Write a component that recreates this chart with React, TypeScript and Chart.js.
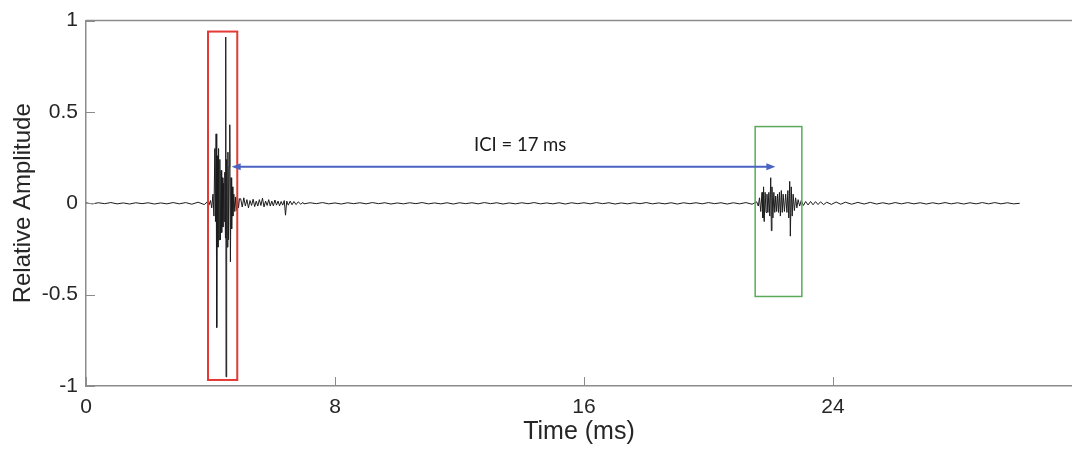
import React, { useEffect, useRef } from "react";
import { Chart, registerables } from "chart.js";

Chart.register(...registerables);

// ---- Data (time in ms, relative amplitude) ----
const xTicks = [0, 8, 16, 24];
const yTicks = [-1, -0.5, 0, 0.5, 1];

const quietStart: [number, number][] = [
  [0, 0.002], [0.2, -0.003], [0.4, 0.003], [0.6, -0.002], [0.8, 0.004], [1.0, -0.003], [1.2, 0.002],
  [1.4, -0.004], [1.6, 0.003], [1.8, -0.002], [2.0, 0.003], [2.2, -0.004], [2.4, 0.002], [2.6, -0.003],
  [2.8, 0.004], [3.0, -0.003], [3.2, 0.004], [3.4, -0.005], [3.6, 0.006], [3.8, -0.007],
];

const click1: [number, number][] = [
  [3.9, 0.008], [3.95, -0.01], [4.0, 0.015], [4.04, -0.025], [4.08, 0.05], [4.11, -0.07], [4.14, 0.3],
  [4.16, -0.1], [4.18, 0.38], [4.2, -0.68], [4.22, 0.26], [4.24, -0.24], [4.26, 0.3], [4.28, -0.2],
  [4.3, 0.24], [4.32, -0.2], [4.34, 0.18], [4.36, -0.16], [4.38, 0.14], [4.4, -0.13], [4.42, 0.11],
  [4.44, -0.1], [4.46, 0.17], [4.48, -0.19], [4.49, 0.91], [4.5, -0.95], [4.52, 0.24], [4.54, -0.24],
  [4.56, 0.28], [4.58, -0.2], [4.6, 0.2], [4.62, 0.43], [4.64, -0.32], [4.66, 0.14], [4.68, -0.14],
  [4.7, 0.09], [4.72, -0.07], [4.75, 0.05], [4.78, -0.045], [4.81, 0.035], [4.84, -0.04], [4.87, 0.03],
  [4.9, -0.025], [4.93, 0.025],
];

const click1Tail: [number, number][] = [
  [4.97, 0.025], [5.02, -0.02], [5.07, 0.03], [5.12, -0.015], [5.17, 0.02], [5.22, -0.025], [5.27, 0.015],
  [5.32, -0.012], [5.37, 0.022], [5.42, -0.018], [5.47, 0.012], [5.52, -0.015], [5.57, 0.02], [5.62, -0.012],
  [5.67, 0.028], [5.72, -0.02], [5.77, 0.012], [5.82, -0.012], [5.87, 0.02], [5.92, -0.015], [5.97, 0.012],
  [6.02, -0.014], [6.07, 0.018], [6.12, -0.01], [6.17, 0.012], [6.22, -0.014], [6.27, 0.01], [6.32, -0.01],
  [6.37, 0.015], [6.41, -0.065], [6.45, 0.012], [6.5, -0.01], [6.56, 0.012], [6.62, -0.008], [6.68, 0.01],
  [6.75, -0.007], [6.82, 0.008], [6.9, -0.005], [6.97, 0.005],
];

const quietMid: [number, number][] = [
  [7.0, -0.003], [7.2, 0.003], [7.4, -0.002], [7.6, 0.004], [7.8, -0.003], [8.0, 0.002], [8.2, -0.004],
  [8.4, 0.003], [8.6, -0.002], [8.8, 0.003], [9.0, -0.003], [9.2, 0.004], [9.4, -0.002], [9.6, 0.003],
  [9.8, -0.004], [10.0, 0.002], [10.2, -0.003], [10.4, 0.003], [10.6, -0.002], [10.8, 0.004], [11.0, -0.003],
  [11.2, 0.002], [11.4, -0.003], [11.6, 0.003], [11.8, -0.004], [12.0, 0.003], [12.2, -0.002], [12.4, 0.003],
  [12.6, -0.003], [12.8, 0.004], [13.0, -0.002], [13.2, 0.003], [13.4, -0.004], [13.6, 0.002], [13.8, -0.003],
  [14.0, 0.003], [14.2, -0.002], [14.4, 0.004], [14.6, -0.003], [14.8, 0.002], [15.0, -0.003], [15.2, 0.003],
  [15.4, -0.004], [15.6, 0.003], [15.8, -0.002], [16.0, 0.003], [16.2, -0.003], [16.4, 0.004], [16.6, -0.002],
  [16.8, 0.003], [17.0, -0.004], [17.2, 0.002], [17.4, -0.003], [17.6, 0.003], [17.8, -0.002], [18.0, 0.004],
  [18.2, -0.003], [18.4, 0.002], [18.6, -0.003], [18.8, 0.003], [19.0, -0.004], [19.2, 0.003], [19.4, -0.002],
  [19.6, 0.003], [19.8, -0.003], [20.0, 0.004], [20.2, -0.002], [20.4, 0.003], [20.6, -0.004], [20.8, 0.003],
  [21.0, -0.003], [21.2, 0.004], [21.4, -0.005],
];

const click2: [number, number][] = [
  [21.55, 0.008], [21.6, -0.015], [21.64, 0.03], [21.68, -0.045], [21.72, 0.06], [21.75, -0.08], [21.77, 0.09],
  [21.79, -0.1], [21.82, 0.06], [21.85, -0.05], [21.88, 0.05], [21.91, -0.05], [21.94, 0.06], [21.97, -0.07],
  [22.0, 0.14], [22.02, -0.15], [22.04, 0.09], [22.07, -0.08], [22.1, 0.06], [22.13, -0.05], [22.16, 0.04],
  [22.19, -0.045], [22.22, 0.05], [22.25, -0.05], [22.28, 0.06], [22.31, -0.07], [22.34, 0.07], [22.37, -0.05],
  [22.4, 0.05], [22.44, -0.045], [22.48, 0.05], [22.52, -0.05], [22.55, 0.07], [22.58, -0.08], [22.61, 0.12],
  [22.63, -0.18], [22.66, 0.09], [22.69, -0.07], [22.72, 0.05], [22.76, -0.04], [22.8, 0.03], [22.84, -0.025],
  [22.88, 0.02], [22.93, -0.015], [22.98, 0.015],
];

const quietEnd: [number, number][] = [
  [23.05, -0.012], [23.12, 0.01], [23.2, -0.009], [23.28, 0.01], [23.36, -0.008], [23.44, 0.009], [23.52, -0.007],
  [23.6, 0.008], [23.7, -0.007], [23.8, 0.006], [23.95, -0.006], [24.1, 0.007], [24.25, -0.005], [24.4, 0.006],
  [24.6, -0.005], [24.8, 0.005], [25.0, -0.004], [25.2, 0.005], [25.4, -0.004], [25.6, 0.003], [25.8, -0.004],
  [26.0, 0.004], [26.2, -0.003], [26.4, 0.004], [26.6, -0.003], [26.8, 0.003], [27.0, -0.004], [27.2, 0.003],
  [27.4, -0.003], [27.6, 0.004], [27.8, -0.003], [28.0, 0.003], [28.2, -0.004], [28.4, 0.003], [28.6, -0.003],
  [28.8, 0.004], [29.0, -0.003], [29.2, 0.004], [29.4, -0.003], [29.6, 0.003], [29.8, -0.003], [30.0, 0.0],
];

// Annotations in data units: [tStart, tEnd, yBottom, yTop]
const redBox = [3.92, 4.86, -0.967, 0.94];
const greenBox = [21.5, 23.0, -0.51, 0.42];
// ICI arrow: [tStart, tEnd, y]
const iciArrow = [4.68, 22.15, 0.2];
const iciLabel = "ICI = 17 ms";
const iciLabelPos = [13.95, 0.32];

const X_MAX = 31.68;
const AXIS_COLOR = "#8c8c8c";
const TEXT_COLOR = "#262626";
const FONT = "'Liberation Sans', Arial, sans-serif";

const overlayPlugin = {
  id: "overlay",
  afterDatasetsDraw(chart: any) {
    const { ctx, chartArea, scales } = chart;
    const x = scales.x;
    const y = scales.y;
    ctx.save();

    // top border
    ctx.strokeStyle = AXIS_COLOR;
    ctx.lineWidth = 1.5;
    ctx.beginPath();
    ctx.moveTo(chartArea.left, chartArea.top);
    ctx.lineTo(chartArea.right, chartArea.top);
    ctx.stroke();

    // inward tick marks
    ctx.lineWidth = 1;
    ctx.beginPath();
    xTicks.forEach((v) => {
      const px = Math.round(x.getPixelForValue(v)) + 0.5;
      ctx.moveTo(px, chartArea.bottom);
      ctx.lineTo(px, chartArea.bottom - 9);
    });
    yTicks.forEach((v) => {
      const py = Math.round(y.getPixelForValue(v)) + 0.5;
      ctx.moveTo(chartArea.left, py);
      ctx.lineTo(chartArea.left + 9, py);
    });
    ctx.stroke();

    const drawBox = (b: number[], color: string, w: number) => {
      const x0 = x.getPixelForValue(b[0]);
      const x1 = x.getPixelForValue(b[1]);
      const y0 = y.getPixelForValue(b[3]);
      const y1 = y.getPixelForValue(b[2]);
      ctx.strokeStyle = color;
      ctx.lineWidth = w;
      ctx.strokeRect(x0, y0, x1 - x0, y1 - y0);
    };
    drawBox(redBox, "#e53935", 2);
    drawBox(greenBox, "#5aaa5a", 1.5);

    // arrow
    const ax0 = x.getPixelForValue(iciArrow[0]);
    const ax1 = x.getPixelForValue(iciArrow[1]);
    const ay = y.getPixelForValue(iciArrow[2]);
    const blue = "#4a63c2";
    ctx.strokeStyle = blue;
    ctx.fillStyle = blue;
    ctx.lineWidth = 2;
    ctx.beginPath();
    ctx.moveTo(ax0 + 4, ay);
    ctx.lineTo(ax1 - 4, ay);
    ctx.stroke();
    ctx.beginPath();
    ctx.moveTo(ax1, ay);
    ctx.lineTo(ax1 - 9, ay - 3.5);
    ctx.lineTo(ax1 - 9, ay + 3.5);
    ctx.closePath();
    ctx.fill();
    ctx.beginPath();
    ctx.moveTo(ax0, ay);
    ctx.lineTo(ax0 + 9, ay - 3.5);
    ctx.lineTo(ax0 + 9, ay + 3.5);
    ctx.closePath();
    ctx.fill();

    // label
    ctx.fillStyle = "#1a1a1a";
    ctx.font = "18.5px Lato, 'Open Sans', sans-serif";
    ctx.textAlign = "center";
    ctx.textBaseline = "middle";
    ctx.fillText(iciLabel, x.getPixelForValue(iciLabelPos[0]), y.getPixelForValue(iciLabelPos[1]));

    ctx.restore();
  },
};

export default function App() {
  const canvasRef = useRef<HTMLCanvasElement | null>(null);

  useEffect(() => {
    document.body.style.margin = "0";
    const canvas = canvasRef.current;
    if (!canvas) return;
    const signal = [...quietStart, ...click1, ...click1Tail, ...quietMid, ...click2, ...quietEnd].map(
      ([t, a]) => ({ x: t, y: a })
    );
    const chart = new Chart(canvas, {
      type: "line",
      data: {
        datasets: [
          {
            data: signal,
            borderColor: "#1c1c1c",
            borderWidth: 1,
            pointRadius: 0,
            tension: 0,
            fill: false,
          },
        ],
      },
      options: {
        animation: false,
        responsive: false,
        maintainAspectRatio: false,
        events: [],
        layout: { padding: { top: 20, right: 0, bottom: 0, left: 0 } },
        plugins: {
          legend: { display: false },
          tooltip: { enabled: false },
        },
        scales: {
          x: {
            type: "linear",
            min: 0,
            max: X_MAX,
            afterBuildTicks: (scale: any) => {
              scale.ticks = xTicks.map((v) => ({ value: v }));
            },
            afterFit: (scale: any) => {
              scale.height = 63;
            },
            grid: { display: false, drawTicks: false },
            border: { display: true, color: AXIS_COLOR, width: 1.5 },
            ticks: {
              color: TEXT_COLOR,
              padding: 9,
              maxRotation: 0,
              autoSkip: false,
              font: { family: FONT, size: 21 },
              callback: (v: any) => String(v),
            },
            title: {
              display: true,
              text: "Time (ms)",
              color: TEXT_COLOR,
              padding: { top: 0, bottom: 2 },
              font: { family: FONT, size: 25 },
            },
          },
          y: {
            type: "linear",
            min: -1,
            max: 1,
            afterBuildTicks: (scale: any) => {
              scale.ticks = yTicks.map((v) => ({ value: v }));
            },
            afterFit: (scale: any) => {
              scale.width = 86;
            },
            grid: { display: false, drawTicks: false },
            border: { display: true, color: AXIS_COLOR, width: 1.5 },
            ticks: {
              color: TEXT_COLOR,
              padding: 8,
              autoSkip: false,
              font: { family: FONT, size: 21 },
              callback: (v: any) => String(v),
            },
            title: {
              display: true,
              text: "Relative Amplitude",
              color: TEXT_COLOR,
              padding: { top: 9, bottom: 0 },
              font: { family: FONT, size: 24 },
            },
          },
        },
      },
      plugins: [overlayPlugin],
    });
    return () => chart.destroy();
  }, []);

  return (
    <div style={{ position: "absolute", left: 0, top: 0, width: 1072, height: 449, background: "#fff" }}>
      <canvas ref={canvasRef} width={1072} height={449} />
    </div>
  );
}
